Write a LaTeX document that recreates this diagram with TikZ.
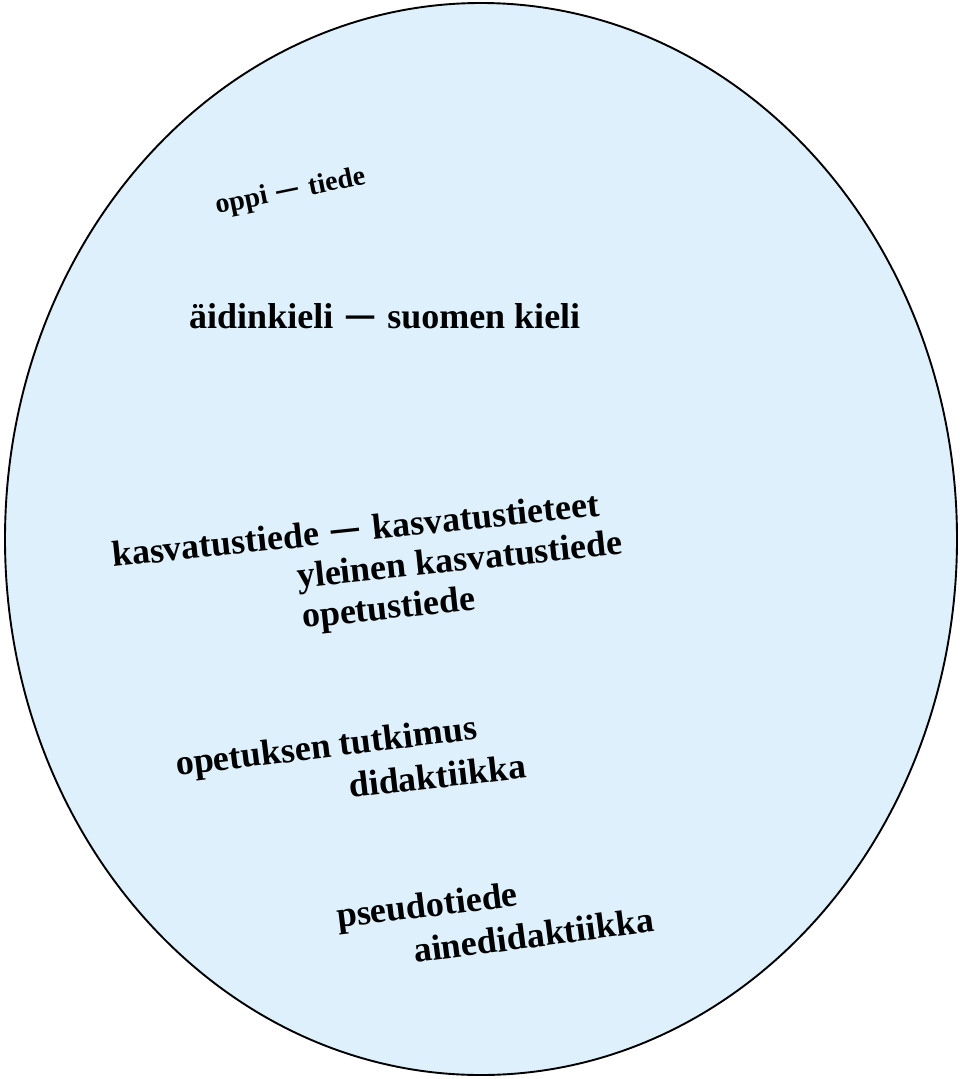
\documentclass[tikz,border=0pt]{standalone}
\usepackage{fontspec}
\setmainfont{Liberation Serif}
\definecolor{fillblue}{RGB}{221,240,251}
\newcommand{\gapdash}{\hspace{0.36em}\scalebox{0.78}[1.3]{—}\hspace{0.36em}}
\tikzset{
  big/.style={anchor=base west, inner sep=0pt, font=\bfseries\fontsize{36}{40}\selectfont},
  small/.style={anchor=base west, inner sep=0pt, font=\bfseries\fontsize{28}{30}\selectfont}
}
\begin{document}
\begin{tikzpicture}[x=1pt,y=-1pt]
\useasboundingbox (0,0) rectangle (960,1079);
\draw[line width=1.9pt, fill=fillblue] (481,539) ellipse [x radius=476, y radius=536];
\node[small, rotate=11.5] (oppi) at (217,214) {oppi\gapdash tiede};
\node[big] (aidin) at (189,328) {äidinkieli\gapdash suomen kieli};
\node[big, rotate=6] (kasv) at (113,567) {kasvatustiede\gapdash kasvatustieteet};
\node[big, rotate=6] (yleinen) at (298,588) {yleinen kasvatustiede};
\node[big, rotate=6] (opetus) at (303,628) {opetustiede};
\node[big, rotate=7] (opetuksen) at (177,776) {opetuksen tutkimus};
\node[big, rotate=6.5] (didak) at (350,798) {didaktiikka};
\node[big, rotate=7] (pseudo) at (338,928) {pseudotiede};
\node[big, rotate=7.5] (aine) at (415,963) {ainedidaktiikka};
\end{tikzpicture}
\end{document}
